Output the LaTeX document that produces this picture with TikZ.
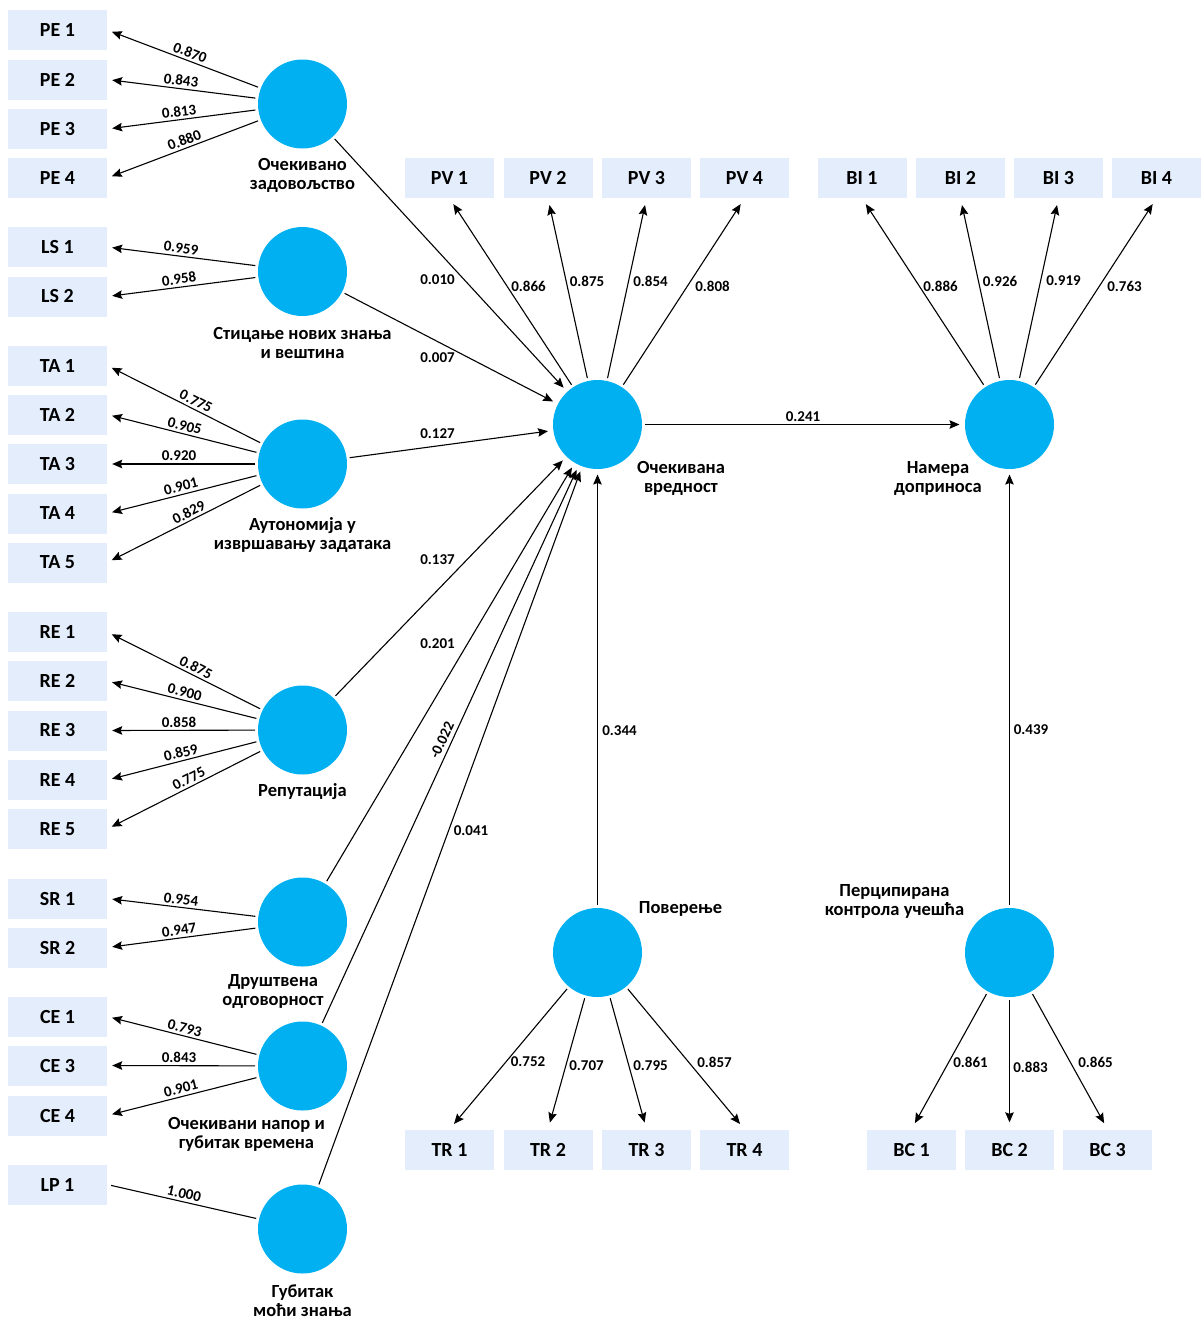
\documentclass[tikz,border=0pt]{standalone}
\usepackage{fontspec}
\setmainfont{Carlito}
\usetikzlibrary{arrows.meta}
\definecolor{lvblue}{HTML}{00B0F0}
\definecolor{mvfill}{HTML}{E3EDFB}
\begin{document}
\begin{tikzpicture}[x=1pt,y=-1pt,
  lv/.style={circle, fill=lvblue, minimum size=89pt, inner sep=0pt, outer sep=3pt},
  mv/.style={fill=mvfill, minimum width=89pt, minimum height=40pt, inner sep=0pt,
    font=\fontsize{20}{24}\selectfont\bfseries},
  mvl/.style={mv, minimum width=99pt},
  lbl/.style={font=\fontsize{15}{18}\selectfont\bfseries, inner sep=0pt},
  slbl/.style={lbl, sloped, above, inner sep=2.5pt},
  cname/.style={font=\fontsize{18.5}{19}\selectfont\bfseries, align=center, inner sep=0pt},
  tip/.style={-{Stealth[length=10pt,width=8.5pt,inset=1.5pt]}},
  load/.style={tip, line width=1.1pt, shorten >=5pt},
  vload/.style={tip, line width=1.1pt, shorten >=7pt},
  plain/.style={line width=1.1pt, shorten >=4pt},
  path/.style={tip, line width=1.1pt, shorten >=2.5pt}
]
\useasboundingbox (0,0) rectangle (1201,1320);

% ---------- indicator boxes, left column ----------
\node[mvl] (PE1) at (57.5,30)    {PE 1};
\node[mvl] (PE2) at (57.5,79.5)  {PE 2};
\node[mvl] (PE3) at (57.5,129)   {PE 3};
\node[mvl] (PE4) at (57.5,178)   {PE 4};
\node[mvl] (LS1) at (57.5,247)   {LS 1};
\node[mvl] (LS2) at (57.5,296.5) {LS 2};
\node[mvl] (TA1) at (57.5,365.5) {TA 1};
\node[mvl] (TA2) at (57.5,414.5) {TA 2};
\node[mvl] (TA3) at (57.5,464)   {TA 3};
\node[mvl] (TA4) at (57.5,513.5) {TA 4};
\node[mvl] (TA5) at (57.5,562.5) {TA 5};
\node[mvl] (RE1) at (57.5,632)   {RE 1};
\node[mvl] (RE2) at (57.5,681)   {RE 2};
\node[mvl] (RE3) at (57.5,730.5) {RE 3};
\node[mvl] (RE4) at (57.5,780)   {RE 4};
\node[mvl] (RE5) at (57.5,829)   {RE 5};
\node[mvl] (SR1) at (57.5,898.5) {SR 1};
\node[mvl] (SR2) at (57.5,947.5) {SR 2};
\node[mvl] (CE1) at (57.5,1016.5){CE 1};
\node[mvl] (CE3) at (57.5,1065.5){CE 3};
\node[mvl] (CE4) at (57.5,1115.5){CE 4};
\node[mvl] (LP1) at (57.5,1184.5){LP 1};

% ---------- indicator boxes, top and bottom rows ----------
\node[mv] (PV1) at (449.5,178) {PV 1};
\node[mv] (PV2) at (548,178)   {PV 2};
\node[mv] (PV3) at (646.5,178) {PV 3};
\node[mv] (PV4) at (744.5,178) {PV 4};
\node[mv] (BI1) at (862,178)    {BI 1};
\node[mv] (BI2) at (960.5,178)  {BI 2};
\node[mv] (BI3) at (1058.5,178) {BI 3};
\node[mv] (BI4) at (1156.5,178) {BI 4};
\node[mv] (TR1) at (449.5,1149.5) {TR 1};
\node[mv] (TR2) at (548,1149.5)   {TR 2};
\node[mv] (TR3) at (646.5,1149.5) {TR 3};
\node[mv] (TR4) at (744.5,1149.5) {TR 4};
\node[mv] (BC1) at (911.5,1149.5)  {BC 1};
\node[mv] (BC2) at (1009.5,1149.5) {BC 2};
\node[mv] (BC3) at (1107.5,1149.5) {BC 3};

% ---------- latent variables ----------
\node[lv] (PE) at (302.5,104)   {};
\node[lv] (LS) at (302.5,271.5) {};
\node[lv] (TA) at (302.5,464)   {};
\node[lv] (RE) at (302.5,730)   {};
\node[lv] (SR) at (302.5,922)   {};
\node[lv] (CE) at (302.5,1066)  {};
\node[lv] (LP) at (302.5,1229)  {};
\node[lv] (OV) at (597.5,424.5) {};
\node[lv] (BI) at (1009.5,424.5){};
\node[lv] (TR) at (597.5,952.5) {};
\node[lv] (BC) at (1009.5,952.5){};

% ---------- construct names ----------
\node[cname] (nPE) at (302.5,175)  {Очекивано\\задовољство};
\node[cname] (nLS) at (302.5,342.5){Стицање нових знања\\и вештина};
\node[cname] (nTA) at (302.5,535)  {Аутономија у\\извршавању задатака};
\node[cname] (nRE) at (302.5,792)  {Репутација};
\node[cname] (nSR) at (273,991)    {Друштвена\\одговорност};
\node[cname, anchor=east] (nCE) at (325,1134) {Очекивани напор и\\губитак времена};
\node[cname] (nLP) at (302.5,1301) {Губитак\\моћи знања};
\node[cname] (nOV) at (681,478)    {Очекивана\\вредност};
\node[cname] (nBI) at (938,478)    {Намера\\доприноса};
\node[cname] (nTR) at (680.5,908.5){Поверење};
\node[cname] (nBC) at (894.5,901)  {Перципирана\\контрола учешћа};

% ---------- outer loadings, left column ----------
\draw[load] (PE) -- node[slbl,pos=.47]  (lPE1) {0.870} (PE1.east);
\draw[load] (PE) -- node[slbl,pos=.508] (lPE2) {0.843} (PE2.east);
\draw[load] (PE) -- node[slbl,pos=.508] (lPE3) {0.813} (PE3.east);
\draw[load] (PE) -- node[slbl,pos=.47]  (lPE4) {0.880} (PE4.east);
\draw[load] (LS) -- node[slbl,pos=.508] (lLS1) {0.959} (LS1.east);
\draw[load] (LS) -- node[slbl,pos=.508] (lLS2) {0.958} (LS2.east);
\draw[load] (TA) -- node[slbl,pos=.443] (lTA1) {0.775} (TA1.east);
\draw[load] (TA) -- node[slbl,pos=.493] (lTA2) {0.905} (TA2.east);
\draw[load] (TA) -- node[slbl,pos=.514] (lTA3) {0.920} (TA3.east);
\draw[load] (TA) -- node[slbl,pos=.493] (lTA4) {0.901} (TA4.east);
\draw[load] (TA) -- node[slbl,pos=.443] (lTA5) {0.829} (TA5.east);
\draw[load] (RE) -- node[slbl,pos=.443] (lRE1) {0.875} (RE1.east);
\draw[load] (RE) -- node[slbl,pos=.493] (lRE2) {0.900} (RE2.east);
\draw[load] (RE) -- node[slbl,pos=.514] (lRE3) {0.858} (RE3.east);
\draw[load] (RE) -- node[slbl,pos=.493] (lRE4) {0.859} (RE4.east);
\draw[load] (RE) -- node[slbl,pos=.443] (lRE5) {0.775} (RE5.east);
\draw[load] (SR) -- node[slbl,pos=.508] (lSR1) {0.954} (SR1.east);
\draw[load] (SR) -- node[slbl,pos=.508] (lSR2) {0.947} (SR2.east);
\draw[load] (CE) -- node[slbl,pos=.493] (lCE1) {0.793} (CE1.east);
\draw[load] (CE) -- node[slbl,pos=.514] (lCE3) {0.843} (CE3.east);
\draw[load] (CE) -- node[slbl,pos=.493] (lCE4) {0.901} (CE4.east);
\draw[plain] (LP) -- node[slbl,pos=.496] (lLP1) {1.000} (LP1.east);

% ---------- outer loadings, top and bottom rows ----------
\draw[vload] (OV) -- (PV1.south);
\draw[vload] (OV) -- (PV2.south);
\draw[vload] (OV) -- (PV3.south);
\draw[vload] (OV) -- (PV4.south);
\draw[vload] (BI) -- (BI1.south);
\draw[vload] (BI) -- (BI2.south);
\draw[vload] (BI) -- (BI3.south);
\draw[vload] (BI) -- (BI4.south);
\draw[vload] (TR) -- (TR1.north);
\draw[vload] (TR) -- (TR2.north);
\draw[vload] (TR) -- (TR3.north);
\draw[vload] (TR) -- (TR4.north);
\draw[vload] (BC) -- (BC1.north);
\draw[vload] (BC) -- (BC2.north);
\draw[vload] (BC) -- (BC3.north);

\node[lbl] (lPV1) at (528.5,286) {0.866};
\node[lbl] (lPV2) at (587,281)   {0.875};
\node[lbl] (lPV3) at (650.5,281) {0.854};
\node[lbl] (lPV4) at (712.5,286) {0.808};
\node[lbl] (lBI1) at (940.5,286)  {0.886};
\node[lbl] (lBI2) at (1000,281)   {0.926};
\node[lbl] (lBI3) at (1063.5,281) {0.919};
\node[lbl] (lBI4) at (1124.5,286) {0.763};
\node[lbl] (lTR1) at (528,1062)   {0.752};
\node[lbl] (lTR2) at (586.5,1066) {0.707};
\node[lbl] (lTR3) at (650.5,1066) {0.795};
\node[lbl] (lTR4) at (714.5,1062) {0.857};
\node[lbl] (lBC1) at (970.5,1062)  {0.861};
\node[lbl] (lBC2) at (1030.5,1067) {0.883};
\node[lbl] (lBC3) at (1095.5,1062) {0.865};

% ---------- structural paths ----------
\draw[path] (PE) -- (OV);
\draw[path] (LS) -- (OV);
\draw[path] (TA) -- (OV);
\draw[path] (RE) -- (OV);
\draw[path] (SR) -- (OV);
\draw[path] (CE) -- (OV);
\draw[path] (LP) -- (OV);
\draw[path] (TR) -- (OV);
\draw[path] (OV) -- (BI);
\draw[path] (BC) -- (BI);

\node[lbl] (pPE) at (437.5,280) {0.010};
\node[lbl] (pLS) at (437.5,358) {0.007};
\node[lbl] (pTA) at (437.5,434) {0.127};
\node[lbl] (pRE) at (437.5,560) {0.137};
\node[lbl] (pSR) at (437.5,644) {0.201};
\node[lbl, rotate=65.3] (pCE) at (442,740) {-0.022};
\node[lbl] (pLP) at (471,831) {0.041};
\node[lbl] (pTR) at (619.5,731) {0.344};
\node[lbl] (pOV) at (803,417) {0.241};
\node[lbl] (pBC) at (1031,730) {0.439};
\end{tikzpicture}
\end{document}
